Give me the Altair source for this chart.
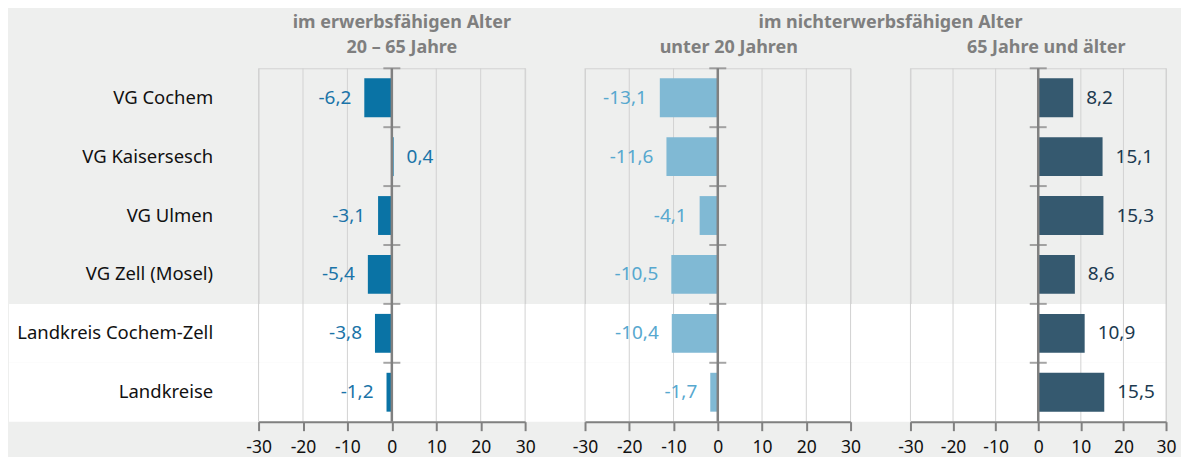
import altair as alt
import pandas as pd

regions = ["VG Cochem", "VG Kaisersesch", "VG Ulmen", "VG Zell (Mosel)",
           "Landkreis Cochem-Zell", "Landkreise"]
erwerb = [-6.2, 0.4, -3.1, -5.4, -3.8, -1.2]
unter20 = [-13.1, -11.6, -4.1, -10.5, -10.4, -1.7]
ueber65 = [8.2, 15.1, 15.3, 8.6, 10.9, 15.5]
ticks = [-30, -20, -10, 0, 10, 20, 30]
white_rows = ["Landkreis Cochem-Zell", "Landkreise"]

FONT = "Noto Sans"
BG = "#eeefee"
AXIS_GRAY = "#808080"
GRID = "#d2d2d2"
TITLE_GRAY = "#7f7f7f"
H = 354


def make_df(vals):
    return pd.DataFrame({
        "region": regions,
        "v": vals,
        "zero": [0] * len(vals),
        "lab": [f"{v:.1f}".replace(".", ",") for v in vals],
    })


def title_mark(text, x, y):
    return alt.Chart(pd.DataFrame({"t": [text]})).mark_text(
        fontSize=18, font=FONT, fontWeight="bold", color=TITLE_GRAY,
        baseline="middle").encode(text="t:N", x=alt.value(x), y=alt.value(y))


def spacer(x1, x2, y1, y2):
    # invisible spacer that fixes the chart's outer bounds
    return alt.Chart(pd.DataFrame({"s": [0]})).mark_rect(opacity=0).encode(
        x=alt.value(x1), x2=alt.value(x2), y=alt.value(y1), y2=alt.value(y2))


def panel(vals, bar_color, text_color, width, titles, first=False,
          band_x1=0, band_x2=None, extras=()):
    df = make_df(vals)
    base = alt.Chart(df)
    yscale = alt.Scale(domain=regions, paddingInner=0, paddingOuter=0)
    if first:
        yaxis = alt.Axis(title=None, ticks=False, domain=False, labelFontSize=18.5,
                         labelColor="#111111", labelFont=FONT, labelPadding=46,
                         labelLimit=400, zindex=1)
    else:
        yaxis = None
    yenc = alt.Y("region:N", scale=yscale, axis=yaxis)
    xscale = alt.Scale(domain=[-30, 30], nice=False)
    xenc = alt.X("v:Q", scale=xscale, title=None,
                 axis=alt.Axis(values=ticks, grid=False, labelOverlap=False,
                               labelFlush=False,
                               labelExpr="replace(datum.label, '\u2212', '-')",
                               domain=True, domainColor=AXIS_GRAY, domainWidth=2,
                               tickColor=AXIS_GRAY, tickWidth=2, tickSize=9,
                               labelFontSize=17.5, labelColor="#111111",
                               labelFont=FONT, labelPadding=8, zindex=1))

    band_df = pd.DataFrame({"region": white_rows})
    band = alt.Chart(band_df).mark_rect(color="white").encode(
        y=alt.Y("region:N", scale=yscale, axis=yaxis),
        x=alt.value(band_x1),
        x2=alt.value(band_x2 if band_x2 is not None else width),
    )
    grid = alt.Chart(pd.DataFrame({"t": ticks})).mark_rule(
        color=GRID, strokeWidth=1).encode(x=alt.X("t:Q", scale=xscale, title=None))
    bars = base.mark_bar(color=bar_color, height={"band": 0.66}).encode(
        x=xenc, x2="zero:Q", y=yenc)
    zero = alt.Chart(pd.DataFrame({"z": [0]})).mark_rule(
        color=AXIS_GRAY, strokeWidth=2.5).encode(x=alt.X("z:Q", scale=xscale, title=None))
    bticks = base.mark_tick(orient="horizontal", size=17, thickness=2,
                            color=AXIS_GRAY, yOffset=-H / 12).encode(
        x=alt.X("zero:Q", scale=xscale, title=None), y=yenc)
    neg = base.transform_filter("datum.v < 0").mark_text(
        align="right", dx=-13, fontSize=19, font=FONT, color=text_color).encode(
        x=alt.X("v:Q", scale=xscale, title=None), y=yenc, text="lab:N")
    pos = base.transform_filter("datum.v >= 0").mark_text(
        align="left", dx=13, fontSize=19, font=FONT, color=text_color).encode(
        x=alt.X("v:Q", scale=xscale, title=None), y=yenc, text="lab:N")
    layers = [band, grid, bars, zero, bticks, neg, pos]
    for (txt, tx, ty) in titles:
        layers.append(title_mark(txt, tx, ty))
    layers.extend(extras)
    return alt.layer(*layers).properties(width=width, height=H)


SP = 60
W1, W2, W3 = 267, 266, 256

p1 = panel(erwerb, "#0a73a5", "#1a74a8", W1,
           [("im erwerbsfähigen Alter", W1 / 2 + 10, -45),
            ("20 – 65 Jahre", W1 / 2 + 10, -20)],
           first=True, band_x1=-250, band_x2=W1 + SP,
           extras=[spacer(0, 10, -59, -58)])
p2 = panel(unter20, "#80b9d4", "#57a8cf", W2,
           [("unter 20 Jahren", W2 / 2 + 11, -20),
            ("im nichterwerbsfähigen Alter", 306, -45)],
           band_x2=W2 + SP)
p3 = panel(ueber65, "#35596f", "#1c3a50", W3,
           [("65 Jahre und älter", W3 / 2 + 8, -20)],
           extras=[spacer(W3, W3 + 14, H, H + 30)])

chart = alt.hconcat(p1, p2, p3, spacing=SP, bounds="flush").configure(
    background=BG, padding=0).configure_view(stroke=GRID, strokeWidth=1)

chart.save("out.html", embed_options={"renderer": "svg", "actions": False})
